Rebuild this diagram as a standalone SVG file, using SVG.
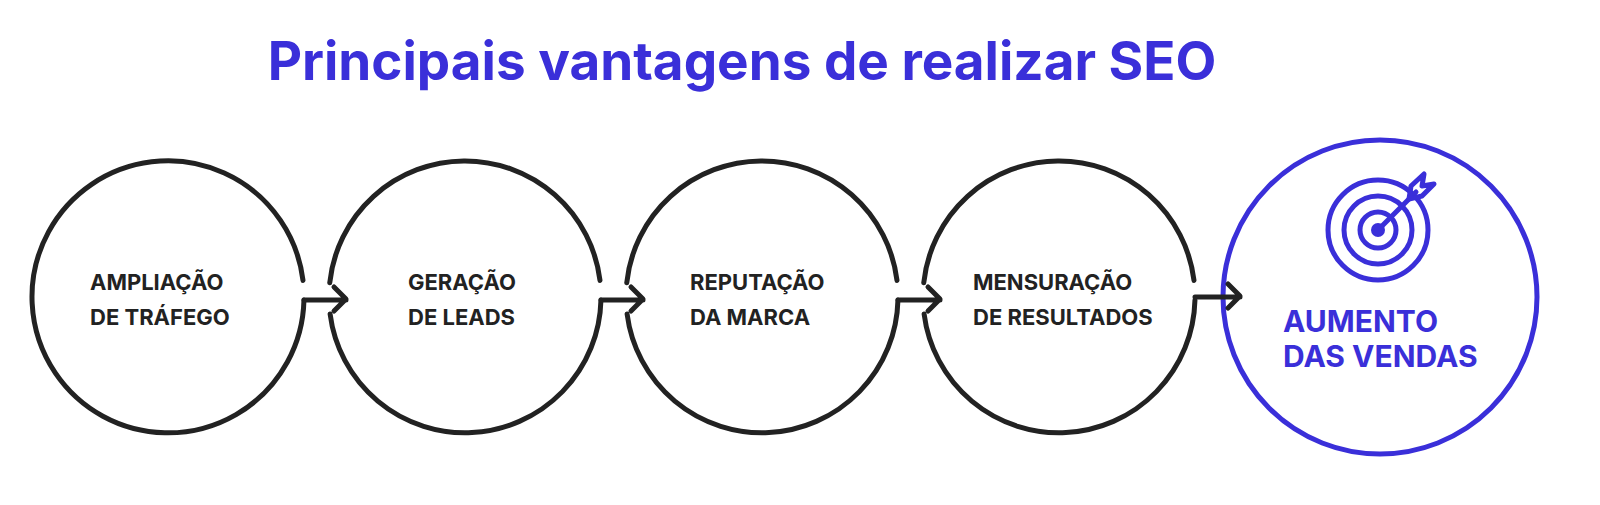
<svg xmlns="http://www.w3.org/2000/svg" width="1600" height="505" viewBox="0 0 1600 505">
<style>
.c{fill:none;stroke:#222;stroke-width:5;stroke-linecap:round}
.a{fill:none;stroke:#222;stroke-width:5;stroke-linecap:round;stroke-linejoin:round}
.t{font-family:Inter,"Liberation Sans",sans-serif;font-weight:700;font-size:22px;fill:#222}
.b{fill:none;stroke:#3a2fd9;stroke-width:5}
.bt{font-family:Inter,"Liberation Sans",sans-serif;font-weight:700;font-size:30px;fill:#3a2fd9}
</style>
<rect width="1600" height="505" fill="#fff"/>
<text x="742" y="80" text-anchor="middle" font-family="Inter,'Liberation Sans',sans-serif" font-weight="700" font-size="53" fill="#3a2fd9">Principais vantagens de realizar SEO</text>
<g id="n1"><path class="c" d="M303.96,300.1 A136,136 0 1 1 303,280.4"/>
<text class="t" x="90" y="290">AMPLIAÇÃO</text><text class="t" x="90" y="325">DE TRÁFEGO</text></g>
<g id="n2"><path class="c" d="M600.96,300.1 A136,136 0 0 1 330.1,314 M329.75,282.8 A136,136 0 0 1 600,280.4"/>
<text class="t" x="408" y="290">GERAÇÃO</text><text class="t" x="408" y="325">DE LEADS</text></g>
<g id="n3"><path class="c" d="M897.96,300.1 A136,136 0 0 1 627.1,314 M626.75,282.8 A136,136 0 0 1 897,280.4"/>
<text class="t" x="690" y="290">REPUTAÇÃO</text><text class="t" x="690" y="325">DA MARCA</text></g>
<g id="n4"><path class="c" d="M1194.96,300.1 A136,136 0 0 1 924.1,314 M923.75,282.8 A136,136 0 0 1 1194,280.4"/>
<text class="t" x="973" y="290">MENSURAÇÃO</text><text class="t" x="973" y="325">DE RESULTADOS</text></g>
<g id="n5"><circle class="b" cx="1380" cy="297" r="157"/>
<g class="b" stroke-width="4.5"><circle cx="1378" cy="230" r="50"/><circle cx="1378" cy="230" r="34"/><circle cx="1378" cy="230" r="18"/>
<path d="M1378,230 L1416,192" stroke-linecap="round"/><path d="M1409,199 L1411,186 L1424,174 L1422,186 L1434,184 L1422,196 L1409,199Z" stroke-linejoin="round"/></g>
<circle cx="1378" cy="230" r="7" fill="#3a2fd9"/>
<text class="bt" x="1283" y="332">AUMENTO</text><text class="bt" x="1283" y="367">DAS VENDAS</text></g>
<g id="connectors">
<path class="a" d="M304,300 H346 M334,287 L346,299 L334,311"/>
<path class="a" d="M601,300 H643 M631,287 L643,299 L631,311"/>
<path class="a" d="M898,300 H940 M928,287 L940,299 L928,311"/>
<path class="a" d="M1195,297 H1240 M1228,284 L1240,296 L1228,308"/>
</g>
</svg>
